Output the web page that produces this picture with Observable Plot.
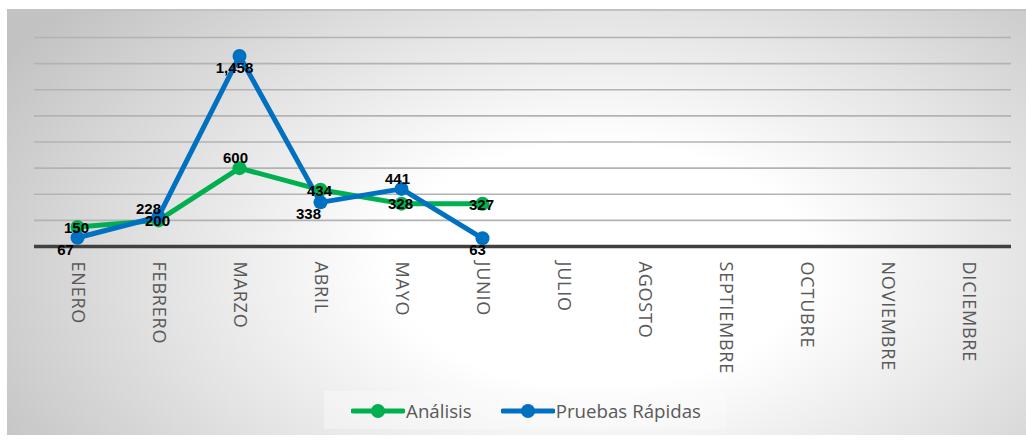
<!DOCTYPE html>
<html>
<head>
<meta charset="utf-8">
<script src="https://cdn.jsdelivr.net/npm/d3@7"></script>
<script src="https://cdn.jsdelivr.net/npm/@observablehq/plot@0.6"></script>
<style>
  html, body { margin: 0; padding: 0; background: #fff; width: 1026px; height: 442px; overflow: hidden; }
  #panel {
    position: absolute; left: 7px; top: 9px; width: 1019px; height: 426px;
    background: radial-gradient(ellipse 68% 95% at 58% 60%, #ffffff 0%, #ffffff 30%, #e4e4e4 62%, #c2c2c2 100%);
    border-top: 2px solid #c2c2c2;
    box-sizing: border-box;
  }
  #chart { position: absolute; left: 0; top: 0; }
  #chart svg g[aria-label="x-axis tick label"] text { letter-spacing: 0.8px; }
  #legendbox {
    position: absolute; top: 391px; left: 324px; width: 402px; height: 38px;
    background: rgba(250,250,250,0.45);
  }
  #legend {
    position: absolute; top: 398px; left: 13px; width: 1026px;
    display: flex; justify-content: center; gap: 29px;
    font-family: "Open Sans", sans-serif; font-size: 18.7px; color: #595959;
  }
  #legend .item { display: flex; align-items: center; }
  #legend svg { margin-right: 1px; }
</style>
</head>
<body>
<div id="panel"></div>
<div id="legendbox"></div>
<div id="chart"></div>
<div id="legend"></div>
<script>
// ---- data ----
const months = ["ENERO","FEBRERO","MARZO","ABRIL","MAYO","JUNIO","JULIO","AGOSTO","SEPTIEMBRE","OCTUBRE","NOVIEMBRE","DICIEMBRE"];
const seriesNames = ["Análisis", "Pruebas Rápidas"];
const analisis = [150, 200, 600, 434, 328, 327];
const pruebas = [67, 228, 1458, 338, 441, 63];
const yTicks = [0, 200, 400, 600, 800, 1000, 1200, 1400, 1600];

// ---- style / label placement (not data) ----
const colors = ["#00B050", "#0070C0"];
const placementAnalisis = ["c", "c", "a", "c", "c", "c"];
const placementPruebas = ["bl", "al", "b", "bl", "a", "b"];
const offsets = { c: [-1, 1], a: [-4, -10], b: [-5, 12], bl: [-12, 12], al: [-10, -8] };

const rows = [];
[analisis, pruebas].forEach((vals, si) => {
  const place = si === 0 ? placementAnalisis : placementPruebas;
  vals.forEach((v, i) => rows.push({ series: seriesNames[si], month: months[i], value: v, place: place[i] }));
});

const fmt = d3.format(",");
const labelFont = "'Liberation Sans', Arial, sans-serif";

const textMarks = Object.entries(offsets).map(([key, [dx, dy]]) =>
  Plot.text(rows.filter(d => d.place === key), {
    x: "month", y: "value", text: d => fmt(d.value),
    dx, dy, fill: "#000", fontWeight: "bold", fontSize: 15, fontFamily: labelFont
  })
);

const chart = Plot.plot({
  width: 1026,
  height: 390,
  marginLeft: 34,
  marginRight: 15,
  marginTop: 37,
  marginBottom: 144,
  style: { background: "transparent", overflow: "visible" },
  x: { type: "point", domain: months, padding: 0.5 },
  y: { domain: [0, 1600], axis: null },
  color: { domain: seriesNames, range: colors },
  marks: [
    Plot.ruleY(yTicks.filter(t => t > 0), { stroke: "#b3b3b3", strokeWidth: 1.6 }),
    Plot.ruleY([0], { stroke: "#404040", strokeWidth: 3.5 }),
    Plot.axisX({
      tickRotate: 90, tickSize: 0, tickPadding: 15, fontSize: 18,
      fill: "#595959", fontFamily: "'Open Sans', sans-serif", label: null
    }),
    Plot.line(rows, { x: "month", y: "value", stroke: "series", strokeWidth: 5, strokeLinejoin: "round" }),
    Plot.dot(rows, { x: "month", y: "value", fill: "series", r: 7, z: "series" }),
    ...textMarks
  ]
});
document.getElementById("chart").appendChild(chart);

// legend
const legend = document.getElementById("legend");
seriesNames.forEach((name, i) => {
  const item = document.createElement("div");
  item.className = "item";
  item.innerHTML = `<svg width="54" height="16"><line x1="2" y1="8" x2="52" y2="8" stroke="${colors[i]}" stroke-width="5" stroke-linecap="round"/><circle cx="27" cy="8" r="7" fill="${colors[i]}"/></svg><span>${name}</span>`;
  legend.appendChild(item);
});
</script>
</body>
</html>
